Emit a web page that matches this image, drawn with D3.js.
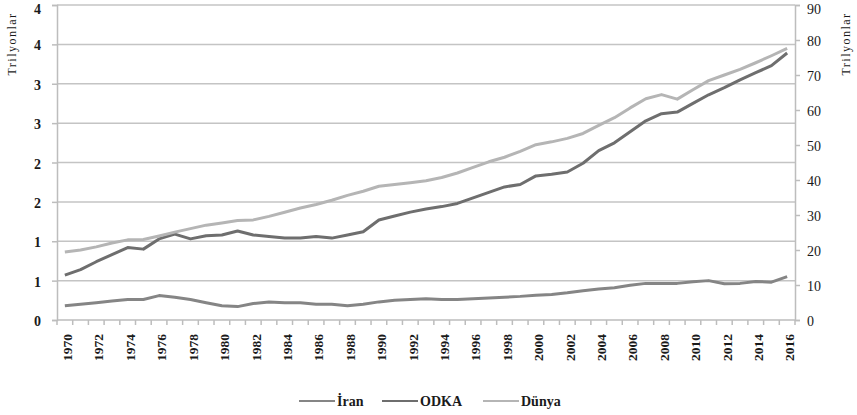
<!DOCTYPE html>
<html><head><meta charset="utf-8">
<script src="https://cdn.jsdelivr.net/npm/d3@7"></script>
<style>
body{margin:0;background:#fff;}
svg{display:block;}
svg text{font-family:"Liberation Serif","DejaVu Serif","Times New Roman",serif !important;}
</style></head>
<body><svg id="c" width="857" height="415"></svg>
<script>
const years = d3.range(1970, 2017);
const iran = [0.18,0.20,0.22,0.24,0.26,0.26,0.31,0.29,0.26,0.22,0.18,0.17,0.21,0.23,0.22,0.22,0.20,0.20,0.18,0.20,0.23,0.25,0.26,0.27,0.26,0.26,0.27,0.28,0.29,0.30,0.315,0.325,0.345,0.37,0.395,0.41,0.44,0.465,0.465,0.465,0.485,0.50,0.46,0.465,0.49,0.48,0.55];
const odka = [0.57,0.64,0.74,0.83,0.92,0.90,1.03,1.09,1.03,1.07,1.08,1.13,1.08,1.06,1.04,1.04,1.06,1.04,1.08,1.12,1.27,1.32,1.37,1.41,1.44,1.48,1.55,1.62,1.69,1.72,1.83,1.85,1.88,1.99,2.15,2.25,2.39,2.53,2.62,2.64,2.75,2.86,2.95,3.05,3.14,3.23,3.39];
const dunya = [19.4,20.0,20.9,22.0,22.9,23.0,24.0,25.1,26.1,27.1,27.7,28.4,28.6,29.6,30.8,32.0,33.0,34.2,35.6,36.8,38.2,38.7,39.2,39.8,40.7,42.0,43.6,45.2,46.5,48.2,50.1,50.9,51.9,53.3,55.6,57.8,60.6,63.2,64.4,63.1,65.8,68.4,70.0,71.6,73.5,75.5,77.6];
const leftTicks = [0,0.5,1,1.5,2,2.5,3,3.5,4];
const leftTickLabels = ["0","1","1","2","2","3","3","4","4"];
const rightTicks = [0,10,20,30,40,50,60,70,80,90];
const xLabelYears = years.filter(y => (y - 1970) % 2 === 0);
const seriesNames = ["İran","ODKA","Dünya"];
const axisTitle = "Trilyonlar";

const L = 57, R = 795, T = 5, B = 320;
const svg = d3.select("#c");
const x = d3.scaleBand().domain(years).range([L, R]).padding(0);
const xc = d => x(d) + x.bandwidth()/2;
const yL = d3.scaleLinear().domain([0,4]).range([B, T]);
const yR = d3.scaleLinear().domain([0,90]).range([B, T]);

const gridCol = "#c4c4c4", axisCol = "#bdbdbd", txtCol = "#1a1a1a";
// gridlines
svg.append("g").selectAll("line").data(leftTicks.filter(d=>d>0)).join("line")
  .attr("x1", L).attr("x2", R).attr("y1", d=>yL(d)).attr("y2", d=>yL(d))
  .attr("stroke", gridCol).attr("stroke-width", 1.5);

// left axis
const gl = svg.append("g").attr("transform", `translate(${L},0)`)
  .call(d3.axisLeft(yL).tickValues(leftTicks).tickSize(5).tickPadding(11)
  .tickFormat((d,i)=>leftTickLabels[i]));
gl.select(".domain").attr("stroke", axisCol).attr("stroke-width", 1.5);
gl.selectAll(".tick line").attr("stroke", axisCol).attr("stroke-width", 1.5);
gl.selectAll("text").attr("font-size", 14).attr("font-weight", "bold").attr("fill", txtCol)
  .attr("dy", d => d === 4 ? "0.6em" : "0.4em");

// right axis
const gr = svg.append("g").attr("transform", `translate(${R},0)`)
  .call(d3.axisRight(yR).tickValues(rightTicks).tickSize(5).tickPadding(7));
gr.select(".domain").attr("stroke", axisCol).attr("stroke-width", 1.5);
gr.selectAll(".tick line").attr("stroke", axisCol).attr("stroke-width", 1.5);
gr.selectAll("text").attr("font-size", 14).attr("fill", txtCol)
  .attr("dy", d => d === 90 ? "0.6em" : "0.4em");

// bottom axis line + boundary ticks
svg.append("line").attr("x1", L).attr("x2", R).attr("y1", B).attr("y2", B)
  .attr("stroke", axisCol).attr("stroke-width", 1.5);
const bounds = years.map(d => x(d)).concat([x(years[years.length-1]) + x.bandwidth()]);
svg.append("g").selectAll("line").data(bounds).join("line")
  .attr("x1", d=>d).attr("x2", d=>d).attr("y1", B).attr("y2", B+5)
  .attr("stroke", axisCol).attr("stroke-width", 1.5);

// x labels
svg.append("g").selectAll("text").data(xLabelYears).join("text")
  .attr("transform", d => `translate(${xc(d)+2.5},${B+14}) rotate(-90)`)
  .attr("text-anchor", "end").attr("dy", "0.35em")
  .attr("font-size", 13.5).attr("font-weight", "bold").attr("fill", txtCol)
  .text(d => d);

// axis titles
svg.append("text").attr("transform", `translate(16,44) rotate(-90)`)
  .attr("text-anchor", "middle").attr("font-size", 12).attr("letter-spacing", 1.5)
  .attr("fill", txtCol).text(axisTitle);
svg.append("text").attr("transform", `translate(850,44) rotate(-90)`)
  .attr("text-anchor", "middle").attr("font-size", 12).attr("letter-spacing", 1.5)
  .attr("fill", txtCol).text(axisTitle);

// lines
const colors = {"İran":"#858585","ODKA":"#6e6e6e","Dünya":"#b5b5b5"};
const lineL = d3.line().x((d,i)=>xc(years[i])).y(d=>yL(d));
const lineR = d3.line().x((d,i)=>xc(years[i])).y(d=>yR(d));
svg.append("path").datum(iran).attr("d", lineL).attr("fill","none")
  .attr("stroke", colors["İran"]).attr("stroke-width", 3).attr("stroke-linejoin","round");
svg.append("path").datum(odka).attr("d", lineL).attr("fill","none")
  .attr("stroke", colors["ODKA"]).attr("stroke-width", 3).attr("stroke-linejoin","round");
svg.append("path").datum(dunya).attr("d", lineR).attr("fill","none")
  .attr("stroke", colors["Dünya"]).attr("stroke-width", 3).attr("stroke-linejoin","round");

// legend
const legX = [299, 382, 483];
const lg = svg.append("g");
seriesNames.forEach((n,i)=>{
  lg.append("line").attr("x1", legX[i]).attr("x2", legX[i]+36)
    .attr("y1", 401).attr("y2", 401).attr("stroke", colors[n]).attr("stroke-width", 2);
  lg.append("text").attr("x", legX[i]+38).attr("y", 401).attr("dy","0.35em")
    .attr("font-size", 14).attr("font-weight","bold").attr("fill",txtCol).text(n);
});
</script></body></html>
